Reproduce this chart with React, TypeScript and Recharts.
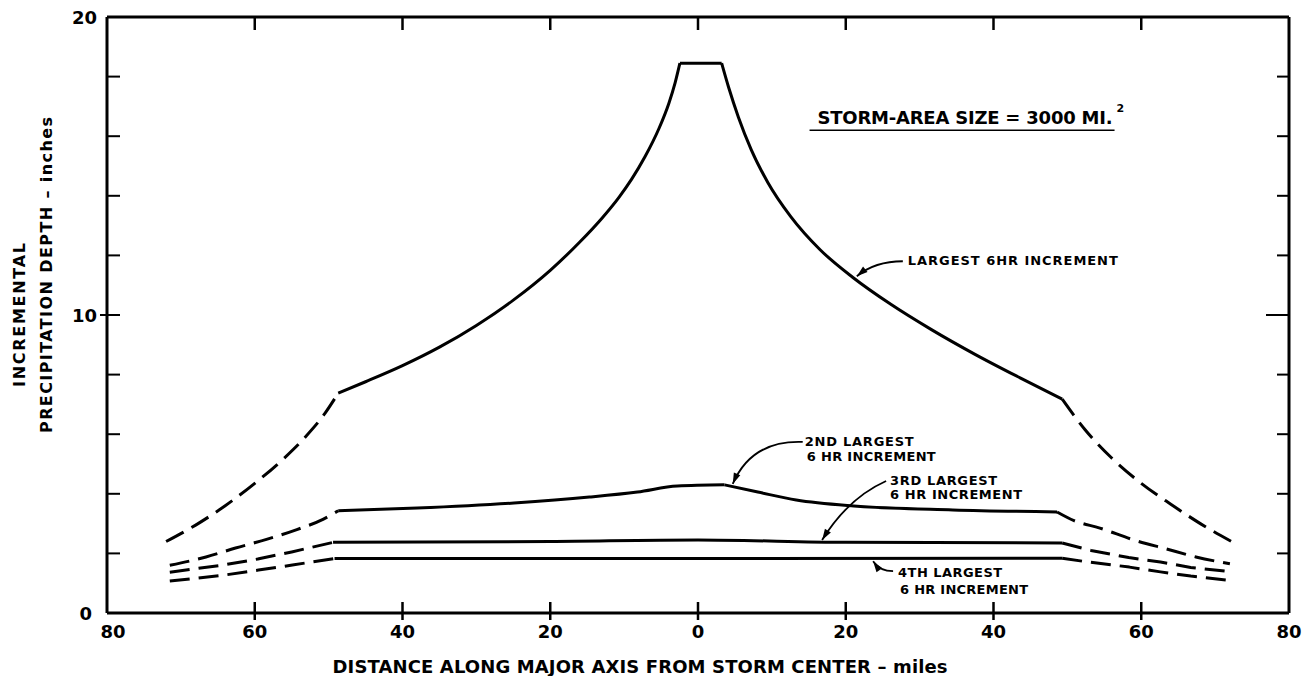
import React from 'react';
import { LineChart, Line, XAxis, YAxis, ReferenceDot } from 'recharts';

type Pt = [number, number];

const xTicks = [-80, -60, -40, -20, 0, 20, 40, 60, 80];
const yTicks = [0, 2, 4, 6, 8, 10, 12, 14, 16, 18, 20];

// largest 6hr increment
const largestDashLeft: Pt[] = [[-72, 2.4], [-68, 2.95], [-64, 3.6], [-60, 4.35], [-56, 5.2], [-53, 5.95], [-50.5, 6.7], [-48.7, 7.38]];
const largestLeft: Pt[] = [[-48.7, 7.38], [-45, 7.76], [-40, 8.3], [-35, 8.92], [-30, 9.65], [-25, 10.5], [-20, 11.5], [-16, 12.45], [-13, 13.25], [-10.7, 13.95], [-9, 14.55], [-7.2, 15.3], [-5.3, 16.25], [-3.95, 17.1], [-3.1, 17.79], [-2.45, 18.45]];
const largestTop: Pt[] = [[-2.45, 18.45], [3.2, 18.45]];
const largestRight: Pt[] = [[3.2, 18.45], [4.13, 17.65], [5.47, 16.64], [7.2, 15.55], [9.47, 14.44], [12.53, 13.31], [16.53, 12.19], [20.97, 11.26], [26.1, 10.36], [31.6, 9.51], [37.5, 8.68], [43.6, 7.89], [49.3, 7.18]];
const largestDashRight: Pt[] = [[49.3, 7.18], [52.4, 6.15], [56, 5.2], [60, 4.35], [64, 3.65], [68, 3.0], [72.2, 2.4]];

// 2nd largest
const secondDashLeft: Pt[] = [[-71.5, 1.6], [-66.6, 1.88], [-62.6, 2.18], [-58.3, 2.48], [-54.3, 2.8], [-50.7, 3.15], [-48.7, 3.43]];
const secondLeft: Pt[] = [[-48.7, 3.43], [-38, 3.52], [-24.9, 3.69], [-14.7, 3.89], [-8.2, 4.06], [-2.8, 4.26], [3.6, 4.3]];
const secondRight: Pt[] = [[3.6, 4.3], [8.1, 4.06], [13.3, 3.79], [21.1, 3.59], [34.5, 3.46], [48.6, 3.39]];
const secondDashRight: Pt[] = [[48.6, 3.39], [50.9, 3.1], [54.4, 2.85], [59, 2.45], [63.4, 2.15], [67.4, 1.88], [72, 1.65]];

// 3rd largest
const thirdDashLeft: Pt[] = [[-71.5, 1.37], [-64.3, 1.61], [-59.6, 1.81], [-55, 2.05], [-49.4, 2.37]];
const thirdSolid: Pt[] = [[-49.4, 2.37], [-20, 2.4], [0, 2.45], [20, 2.37], [49.3, 2.35]];
const thirdDashRight: Pt[] = [[49.3, 2.35], [53.2, 2.1], [58.3, 1.86], [62.6, 1.71], [66.7, 1.53], [72.3, 1.38]];

// 4th largest
const fourthDashLeft: Pt[] = [[-71.5, 1.07], [-64.2, 1.27], [-59.5, 1.44], [-54.9, 1.61], [-49.2, 1.83]];
const fourthSolid: Pt[] = [[-49.2, 1.83], [0, 1.83], [49.3, 1.84]];
const fourthDashRight: Pt[] = [[49.3, 1.84], [52, 1.74], [58.4, 1.54], [62.6, 1.38], [66.7, 1.24], [72.3, 1.08]];

const rows = (pts: Pt[]) => pts.map(([x, y]) => ({ x, y }));

const segments = [
  { id: 'l1', data: largestDashLeft, dashed: true, curve: 'monotone' },
  { id: 'l2', data: largestLeft, dashed: false, curve: 'monotone' },
  { id: 'l3', data: largestTop, dashed: false, curve: 'linear' },
  { id: 'l4', data: largestRight, dashed: false, curve: 'monotone' },
  { id: 'l5', data: largestDashRight, dashed: true, curve: 'monotone' },
  { id: 's1', data: secondDashLeft, dashed: true, curve: 'monotone' },
  { id: 's2', data: secondLeft, dashed: false, curve: 'monotone' },
  { id: 's3', data: secondRight, dashed: false, curve: 'monotone' },
  { id: 's4', data: secondDashRight, dashed: true, curve: 'monotone' },
  { id: 't1', data: thirdDashLeft, dashed: true, curve: 'linear' },
  { id: 't2', data: thirdSolid, dashed: false, curve: 'monotone' },
  { id: 't3', data: thirdDashRight, dashed: true, curve: 'linear' },
  { id: 'f1', data: fourthDashLeft, dashed: true, curve: 'linear' },
  { id: 'f2', data: fourthSolid, dashed: false, curve: 'linear' },
  { id: 'f3', data: fourthDashRight, dashed: true, curve: 'linear' },
];

const FONT = '"DejaVu Sans", Verdana, sans-serif';

const BottomTick = (p: any) => {
  const v = p.payload.value;
  const { x, y } = p;
  return (
    <g>
      {Math.abs(v) !== 80 && <line x1={x} x2={x} y1={y - 11} y2={y + 7} stroke="#000" strokeWidth={2.5} />}
      <text x={v === -80 ? x + 6 : x} y={y + 18} textAnchor="middle" dominantBaseline="central" fontFamily={FONT} fontWeight="bold" fontSize={18} fill="#000">
        {Math.abs(v)}
      </text>
    </g>
  );
};

const TopTick = (p: any) => {
  const v = p.payload.value;
  if (Math.abs(v) === 80) return <g />;
  return <line x1={p.x} x2={p.x} y1={p.y} y2={p.y + 13} stroke="#000" strokeWidth={2.5} />;
};

const LeftTick = (p: any) => {
  const v = p.payload.value;
  const { x, y } = p;
  return (
    <g>
      {v !== 0 && v !== 20 && <line x1={v === 10 ? x - 7 : x} x2={x + 13} y1={y} y2={y} stroke="#000" strokeWidth={2} />}
      {v % 10 === 0 && (
        <text x={v === 0 ? x - 15 : x - 10} y={y} textAnchor="end" dominantBaseline="central" fontFamily={FONT} fontWeight="bold" fontSize={18} fill="#000">
          {v}
        </text>
      )}
    </g>
  );
};

const RightTick = (p: any) => {
  const v = p.payload.value;
  if (v === 0 || v === 20) return <g />;
  return <line x1={v === 10 ? p.x - 23 : p.x - 12} x2={p.x} y1={p.y} y2={p.y} stroke="#000" strokeWidth={2} />;
};

const YTitle = ({ viewBox }: any) => {
  const { x, y } = viewBox;
  return (
    <g fontFamily={FONT} fontWeight="bold" fill="#000" fontSize={16}>
      <text transform={`translate(${x + 19},${y + 298}) rotate(-90)`} textAnchor="middle" dominantBaseline="central" textLength={144} lengthAdjust="spacing">
        INCREMENTAL
      </text>
      <text transform={`translate(${x + 46},${y + 258}) rotate(-90)`} textAnchor="middle" dominantBaseline="central" textLength={316} lengthAdjust="spacing">
        PRECIPITATION DEPTH – inches
      </text>
    </g>
  );
};

const XTitle = ({ viewBox }: any) => {
  const { x, y } = viewBox;
  return (
    <text x={x + 533} y={y + 53} textAnchor="middle" dominantBaseline="central" fontFamily={FONT} fontWeight="bold" fontSize={18} fill="#000" textLength={615} lengthAdjust="spacing">
      DISTANCE ALONG MAJOR AXIS FROM STORM CENTER – miles
    </text>
  );
};

const head = (tx: number, ty: number, fx: number, fy: number, len = 11, w = 3.5) => {
  const dx = tx - fx;
  const dy = ty - fy;
  const l = Math.hypot(dx, dy);
  const ux = dx / l;
  const uy = dy / l;
  const bx = tx - ux * len;
  const by = ty - uy * len;
  return `M${tx},${ty} L${bx - uy * w},${by + ux * w} L${bx + uy * w},${by - ux * w} Z`;
};

type CalloutSpec = {
  lines: { text: string; dx: number; dy: number; len: number }[];
  start: [number, number];
  ctrl: [number, number];
};

const makeCallout = (spec: CalloutSpec) => (p: any) => {
  const { cx, cy } = p;
  const [sx, sy] = spec.start;
  const [qx, qy] = spec.ctrl;
  return (
    <g>
      <path d={`M${cx + sx},${cy + sy} Q${cx + qx},${cy + qy} ${cx},${cy}`} fill="none" stroke="#000" strokeWidth={1.8} />
      <path d={head(cx, cy, cx + qx, cy + qy)} fill="#000" />
      {spec.lines.map((ln) => (
        <text key={ln.text + ln.dy} x={cx + ln.dx} y={cy + ln.dy} dominantBaseline="central" fontFamily={FONT} fontWeight="bold" fontSize={13} fill="#000" textLength={ln.len} lengthAdjust="spacing">
          {ln.text}
        </text>
      ))}
    </g>
  );
};

const largestNote = makeCallout({
  lines: [{ text: 'LARGEST 6HR INCREMENT', dx: 51, dy: -16, len: 210 }],
  start: [46, -15],
  ctrl: [18, -15],
});
const secondNote = makeCallout({
  lines: [
    { text: '2ND LARGEST', dx: 72, dy: -42, len: 109 },
    { text: '6 HR INCREMENT', dx: 74, dy: -27, len: 129 },
  ],
  start: [70, -42],
  ctrl: [19, -44],
});
const thirdNote = makeCallout({
  lines: [
    { text: '3RD LARGEST', dx: 68, dy: -59, len: 107 },
    { text: '6 HR INCREMENT', dx: 68, dy: -45, len: 132 },
  ],
  start: [64, -59],
  ctrl: [26, -42],
});
const fourthNote = makeCallout({
  lines: [
    { text: '4TH LARGEST', dx: 25, dy: 11, len: 104 },
    { text: '6 HR INCREMENT', dx: 27, dy: 28, len: 128 },
  ],
  start: [20, 10],
  ctrl: [7, 10],
});

const StormLabel = (p: any) => {
  const { cx, cy } = p;
  return (
    <g fontFamily={FONT} fontWeight="bold" fill="#000">
      <text x={cx + 8} y={cy - 13} dominantBaseline="central" fontSize={18} textLength={295} lengthAdjust="spacing">
        STORM-AREA SIZE = 3000 MI.
      </text>
      <text x={cx + 307} y={cy - 22} dominantBaseline="central" fontSize={11}>
        2
      </text>
      <line x1={cx} x2={cx + 305} y1={cy} y2={cy} stroke="#000" strokeWidth={1.6} />
    </g>
  );
};

export default function App() {
  return (
    <div style={{ width: 1306, height: 676, background: '#fff' }}>
      <style>{`body{margin:0;overflow:hidden;background:#fff}`}</style>
      <LineChart width={1306} height={676} margin={{ top: 16, right: 16, bottom: 0, left: 0 }}>
        <XAxis
          dataKey="x"
          type="number"
          domain={[-80, 80]}
          ticks={xTicks}
          interval={0}
          allowDataOverflow
          height={63}
          tickSize={0}
          tickMargin={0}
          tickLine={false}
          tick={<BottomTick />}
          axisLine={{ stroke: '#000', strokeWidth: 3 }}
          label={{ content: <XTitle /> }}
        />
        <XAxis
          xAxisId="top"
          orientation="top"
          dataKey="x"
          type="number"
          domain={[-80, 80]}
          ticks={xTicks}
          interval={0}
          allowDataOverflow
          height={1}
          tickSize={0}
          tickMargin={0}
          tickLine={false}
          tick={<TopTick />}
          axisLine={{ stroke: '#000', strokeWidth: 3 }}
        />
        <YAxis
          type="number"
          domain={[0, 20]}
          ticks={yTicks}
          interval={0}
          allowDataOverflow
          width={107}
          tickSize={0}
          tickMargin={0}
          tickLine={false}
          tick={<LeftTick />}
          axisLine={{ stroke: '#000', strokeWidth: 3 }}
          label={{ content: <YTitle /> }}
        />
        <YAxis
          yAxisId="right"
          orientation="right"
          type="number"
          domain={[0, 20]}
          ticks={yTicks}
          interval={0}
          allowDataOverflow
          width={1}
          tickSize={0}
          tickMargin={0}
          tickLine={false}
          tick={<RightTick />}
          axisLine={{ stroke: '#000', strokeWidth: 3 }}
        />
        {segments.map((s) => (
          <Line
            key={s.id}
            data={rows(s.data)}
            dataKey="y"
            type={s.curve as any}
            stroke="#000"
            strokeWidth={3}
            strokeDasharray={s.dashed ? '20 9' : undefined}
            strokeLinejoin="round"
            dot={false}
            activeDot={false}
            isAnimationActive={false}
          />
        ))}
        <ReferenceDot x={21.5} y={11.3} r={2} shape={largestNote} />
        <ReferenceDot x={4.7} y={4.33} r={2} shape={secondNote} />
        <ReferenceDot x={16.8} y={2.45} r={2} shape={thirdNote} />
        <ReferenceDot x={23.7} y={1.74} r={2} shape={fourthNote} />
        <ReferenceDot x={15.1} y={16.2} r={2} shape={StormLabel} />
      </LineChart>
    </div>
  );
}
